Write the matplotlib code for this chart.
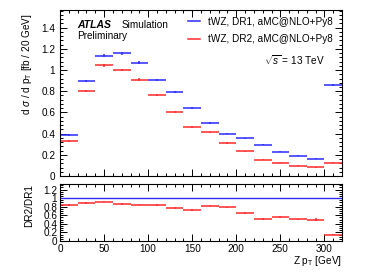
import numpy as np
import matplotlib
matplotlib.use('Agg')
import matplotlib.pyplot as plt
from matplotlib.ticker import MultipleLocator
from matplotlib.lines import Line2D

plt.rcParams['font.family'] = ['Liberation Sans', 'DejaVu Sans']
plt.rcParams['mathtext.fontset'] = 'custom'
plt.rcParams['mathtext.rm'] = 'Liberation Sans'
plt.rcParams['mathtext.it'] = 'Liberation Sans:italic'

# Z pT bins (GeV)
bin_edges = np.arange(0, 340, 20)
# d sigma / d pT [fb / 20 GeV]
dr1 = [0.39, 0.90, 1.136, 1.158, 1.07, 0.907, 0.789, 0.64, 0.50, 0.40,
       0.357, 0.294, 0.231, 0.193, 0.162, 0.86]
dr2 = [0.33, 0.80, 1.045, 1.00, 0.91, 0.763, 0.607, 0.463, 0.413, 0.313,
       0.235, 0.153, 0.128, 0.097, 0.081, 0.128]
dr1_err = [0.008, 0.01, 0.012, 0.012, 0.011, 0.01, 0.009, 0.008, 0.007, 0.006,
           0.006, 0.005, 0.005, 0.004, 0.004, 0.006]
dr2_err = [0.008, 0.01, 0.012, 0.012, 0.011, 0.01, 0.009, 0.008, 0.007, 0.006,
           0.006, 0.005, 0.005, 0.004, 0.004, 0.006]

dr1 = np.array(dr1)
dr2 = np.array(dr2)
centers = 0.5 * (bin_edges[:-1] + bin_edges[1:])
halfw = np.diff(bin_edges) / 2
ratio = dr2 / dr1
ratio_err = ratio * np.sqrt((np.array(dr1_err) / dr1) ** 2 + (np.array(dr2_err) / dr2) ** 2)

blue = '#2a2aff'
red = '#ff2a2a'
fs = 7.2

fig = plt.figure(figsize=(3.8, 2.73), dpi=100)
ax = fig.add_axes([0.158, 0.355, 0.742, 0.608])
axr = fig.add_axes([0.158, 0.117, 0.742, 0.209])

ax.errorbar(centers, dr1, xerr=halfw, yerr=dr1_err, fmt='none', ecolor=blue, elinewidth=1.1)
ax.errorbar(centers, dr2, xerr=halfw, yerr=dr2_err, fmt='none', ecolor=red, elinewidth=1.1)

axr.axhline(1.0, color=blue, lw=1.0)
axr.errorbar(centers, ratio, xerr=halfw, yerr=ratio_err, fmt='none', ecolor=red, elinewidth=1.1)

ax.set_xlim(0, 320)
ax.set_ylim(0, 1.565)
axr.set_xlim(0, 320)
axr.set_ylim(0, 1.33)

for a in (ax, axr):
    a.tick_params(which='both', direction='in', top=True, right=True, labelsize=fs, width=0.7)
    a.tick_params(which='major', length=5)
    a.tick_params(which='minor', length=2.5)
    a.xaxis.set_major_locator(MultipleLocator(50))
    a.xaxis.set_minor_locator(MultipleLocator(10))
    for s in a.spines.values():
        s.set_linewidth(0.8)
ax.yaxis.set_minor_locator(MultipleLocator(0.04))
ax.set_yticks([0, 0.2, 0.4, 0.6, 0.8, 1.0, 1.2, 1.4])
ax.set_yticklabels(['0', '0.2', '0.4', '0.6', '0.8', '1', '1.2', '1.4'])
ax.set_xticklabels([])
axr.yaxis.set_minor_locator(MultipleLocator(0.05))
axr.set_yticks([0, 0.2, 0.4, 0.6, 0.8, 1.0, 1.2])
axr.set_yticklabels(['0', '0.2', '0.4', '0.6', '0.8', '1', '1.2'])
axr.set_xticks([0, 50, 100, 150, 200, 250, 300])
axr.set_xticklabels(['0', '50', '100', '150', '200', '250', '300'])
axr.tick_params(axis='y', pad=2)
axr.tick_params(axis='x', pad=2)

ax.set_ylabel(r'd $\sigma$ / d p$_{\rm T}$ [fb / 20 GeV]', fontsize=fs, loc='top')
axr.set_ylabel('DR2/DR1', fontsize=fs, loc='top')
ax.yaxis.set_label_coords(-0.093, 0.98)
axr.yaxis.set_label_coords(-0.093, 1.0)
axr.set_xlabel(r'Z p$_{\rm T}$ [GeV]', fontsize=fs, loc='right', labelpad=0)

ax.text(0.06, 0.91, 'ATLAS', transform=ax.transAxes, fontsize=fs + 0.3,
        fontweight='bold', style='italic', va='center')
ax.text(0.22, 0.91, 'Simulation', transform=ax.transAxes, fontsize=fs, va='center')
ax.text(0.06, 0.845, 'Preliminary', transform=ax.transAxes, fontsize=fs, va='center')
ax.text(0.94, 0.70, r'$\sqrt{s}$ = 13 TeV', transform=ax.transAxes, fontsize=fs,
        ha='right', va='center')

handles = [Line2D([], [], color=blue, lw=1.1), Line2D([], [], color=red, lw=1.1)]
labels = ['tWZ, DR1, aMC@NLO+Py8', 'tWZ, DR2, aMC@NLO+Py8']
ax.legend(handles, labels, loc='upper left', bbox_to_anchor=(0.44, 0.985), frameon=False,
          fontsize=fs, handlelength=1.2, handletextpad=0.8, labelspacing=0.75,
          borderaxespad=0.0)

fig.savefig('out.png', dpi=100)
